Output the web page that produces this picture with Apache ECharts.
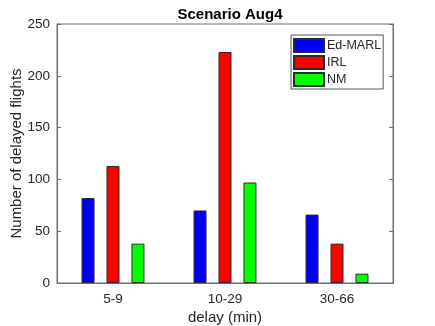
<!DOCTYPE html>
<html>
<head>
<meta charset="utf-8">
<script src="https://cdn.jsdelivr.net/npm/echarts@6/dist/echarts.min.js"></script>
<style>
  html, body { margin: 0; padding: 0; background: #fff; }
  #chart { width: 435px; height: 326px; }
</style>
</head>
<body>
<div id="chart"></div>
<script>
// delay buckets and counts
const categories = ['5-9', '10-29', '30-66'];
const edMarl = [82, 70, 66];
const irl = [113, 223, 38];
const nm = [38, 97, 9];

const font = 'Liberation Sans, Arial, Helvetica, sans-serif';
const axisCol = '#6e6e6e';
const textCol = '#262626';

const chart = echarts.init(document.getElementById('chart'));

function barSeries(name, data, color) {
    return {
        name: name,
        type: 'bar',
        data: data,
        barWidth: 13,
        barGap: '92%',
        itemStyle: { color: color, borderColor: '#2b2b2b', borderWidth: 1 }
    };
}

const option = {
    animation: false,
    backgroundColor: '#fff',
    title: {
        text: 'Scenario Aug4',
        left: 225,
        top: 2,
        textAlign: 'center',
        textStyle: { fontFamily: font, fontSize: 15, fontWeight: 'bold', color: '#000' }
    },
    legend: {
        data: ['Ed-MARL', 'IRL', 'NM'],
        orient: 'vertical',
        left: 291,
        top: 35,
        icon: 'rect',
        itemWidth: 30,
        itemHeight: 13,
        itemGap: 2,
        padding: [3, 2, 2, 2],
        borderColor: '#555',
        borderWidth: 1,
        backgroundColor: '#fff',
        textStyle: { fontFamily: font, fontSize: 12.5, lineHeight: 13, color: textCol, padding: [0, 0, 0, -2] }
    },
    grid: {
        left: 57, right: 42, top: 24, bottom: 43,
        outerBoundsMode: 'none',
        containLabel: false,
        show: true,
        borderColor: axisCol,
        borderWidth: 1
    },
    xAxis: {
        type: 'category',
        data: categories,
        name: 'delay (min)',
        nameLocation: 'middle',
        nameGap: 27,
        nameMoveOverlap: false,
        nameTextStyle: { fontFamily: font, fontSize: 15, color: textCol },
        axisLine: { lineStyle: { color: axisCol } },
        axisTick: { show: false },
        axisLabel: { fontFamily: font, fontSize: 13.5, color: textCol, margin: 9 },
        splitLine: { show: false }
    },
    yAxis: [
        {
            type: 'value',
            min: 0,
            max: 250,
            interval: 50,
            name: 'Number of delayed flights',
            nameLocation: 'middle',
            nameGap: 33,
            nameMoveOverlap: false,
            nameTextStyle: { fontFamily: font, fontSize: 15, color: textCol },
            axisLine: { show: true, lineStyle: { color: axisCol } },
            axisTick: { show: true, inside: true, length: 4, lineStyle: { color: axisCol } },
            axisLabel: { fontFamily: font, fontSize: 13.5, color: textCol, margin: 7 },
            splitLine: { show: false }
        },
        {
            type: 'value',
            min: 0,
            max: 250,
            interval: 50,
            position: 'right',
            axisLine: { show: true, lineStyle: { color: axisCol } },
            axisTick: { show: true, inside: true, length: 4, lineStyle: { color: axisCol } },
            axisLabel: { show: false },
            splitLine: { show: false }
        }
    ],
    series: [
        barSeries('Ed-MARL', edMarl, '#0000ff'),
        barSeries('IRL', irl, '#ff0000'),
        barSeries('NM', nm, '#00ff00')
    ]
};

chart.setOption(option);
</script>
</body>
</html>
